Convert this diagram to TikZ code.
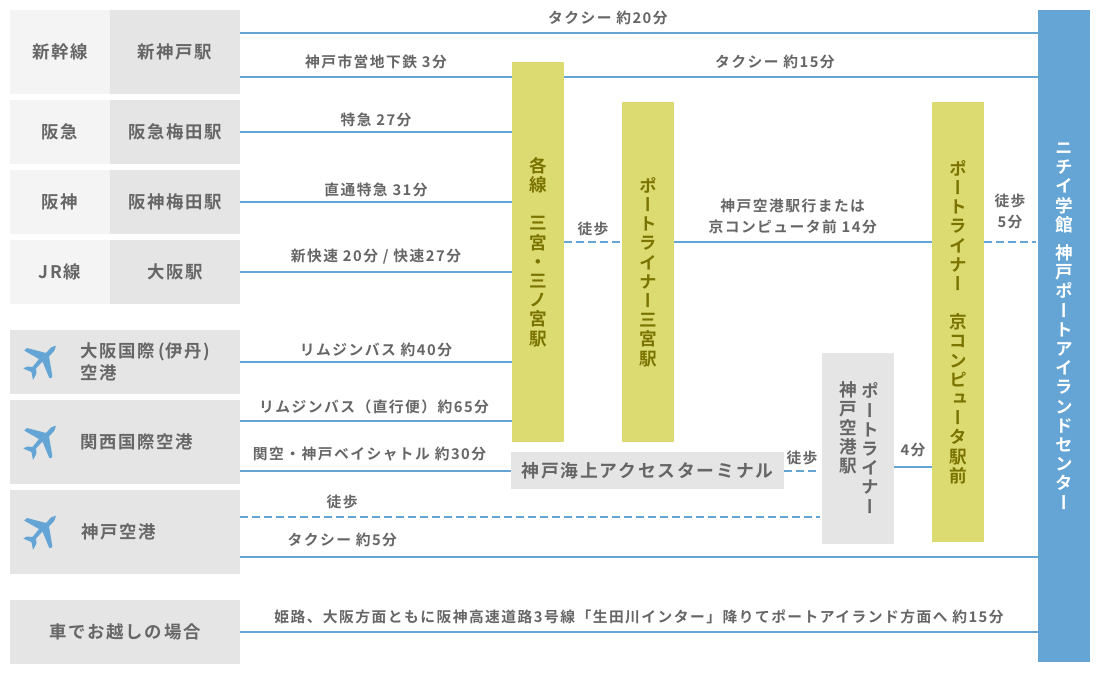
\documentclass[tikz,border=0pt]{standalone}
\usepackage{fontspec}
\setmainfont{Noto Sans CJK JP}[LetterSpace=10,BoldFont={Noto Sans CJK JP Bold}]
\newfontfamily\tatefont{Noto Sans CJK JP}[LetterSpace=0,RawFeature=+vert,BoldFont={Noto Sans CJK JP Bold}]
\definecolor{routeblue}{HTML}{64A5D6}
\definecolor{railyellow}{HTML}{DBDB72}
\definecolor{railtext}{HTML}{7A7300}
\definecolor{boxdark}{HTML}{E5E5E5}
\definecolor{boxlight}{HTML}{F4F4F4}
\definecolor{inktext}{HTML}{666666}
\tikzset{
  route/.style={draw=routeblue, line width=2pt},
  walk/.style={route, dash pattern=on 8pt off 4pt},
  tag/.style={text=inktext, font=\fontsize{14.75}{21}\selectfont\bfseries, inner sep=0pt, align=center},
  stname/.style={text=inktext, font=\fontsize{17.4}{22}\selectfont\bfseries, inner sep=0pt, align=left},
  darkbox/.style={fill=boxdark, inner sep=0pt},
  lightbox/.style={fill=boxlight, inner sep=0pt},
  railbox/.style={fill=railyellow, inner sep=0pt, minimum width=52pt},
  tate/.style={inner sep=0pt, align=center, font=\fontsize{17.6}{19.2}\selectfont\tatefont\bfseries},
  plane/.pic={
    \fill[routeblue, rounded corners=0.6pt] (16,-16.5) -- (14.5,-11.5) -- (9,-5.5) -- (12.5,15) -- (9.5,16.5) -- (2.5,-0.5) -- (-4,6.5) -- (-3.5,11.5) -- (-7,18) -- (-8.5,10) -- (-17,6.5) -- (-13,4.5) -- (-7.5,5) -- (-1,-3) -- (-16,-11.5) -- (-13,-14) -- (6,-9) -- (11,-14.5) -- cycle;
  }
}
\begin{document}
\begin{tikzpicture}[x=1pt, y=-1pt]
\useasboundingbox (0,0) rectangle (1100,674);
% left column
\node[lightbox, minimum width=100pt, minimum height=84pt, stname] (shin) at (60,52) {新幹線};
\node[darkbox, minimum width=130pt, minimum height=84pt, stname] (shinkobe) at (175,52) {新神戸駅};
\node[lightbox, minimum width=100pt, minimum height=64pt, stname] (hankyu) at (60,132) {阪急};
\node[darkbox, minimum width=130pt, minimum height=64pt, stname] (hankyust) at (175,132) {阪急梅田駅};
\node[lightbox, minimum width=100pt, minimum height=64pt, stname] (hanshin) at (60,202) {阪神};
\node[darkbox, minimum width=130pt, minimum height=64pt, stname] (hanshinst) at (175,202) {阪神梅田駅};
\node[lightbox, minimum width=100pt, minimum height=64pt, stname] (jr) at (60,272) {JR線};
\node[darkbox, minimum width=130pt, minimum height=64pt, stname] (osaka) at (175,272) {大阪駅};
\node[darkbox, minimum width=230pt, minimum height=64pt] (itami) at (125,362) {};
\node[darkbox, minimum width=230pt, minimum height=84pt] (kansai) at (125,442) {};
\node[darkbox, minimum width=230pt, minimum height=84pt] (kobeair) at (125,532) {};
\node[darkbox, minimum width=230pt, minimum height=64pt, stname] (car) at (125,632) {車でお越しの場合};
\node[stname, anchor=west] (itamilabel) at (80,362) {大阪国際\hspace{3pt}(\hspace{1pt}伊丹\hspace{1pt})\\空港};
\node[stname, anchor=west] (kansailabel) at (80,442) {関西国際空港};
\node[stname, anchor=west] (kobelabel) at (81,532) {神戸空港};
\pic at (40,362) {plane};
\pic at (40,442) {plane};
\pic at (40,532) {plane};
% stations
\node[railbox, minimum height=380pt] (sannomiya) at (538,252) {};
\node[railbox, minimum height=340pt] (plsan) at (648,272) {};
\node[railbox, minimum height=440pt] (plkyo) at (958,322) {};
\node[darkbox, minimum width=273pt, minimum height=37pt, stname, font=\fontsize{17.8}{22}\selectfont\bfseries] (terminal) at (647.5,470.5) {神戸海上アクセスターミナル};
\node[darkbox, minimum width=72pt, minimum height=191pt] (plkobe) at (858,448.5) {};
\node[fill=routeblue, inner sep=0pt, minimum width=52pt, minimum height=652pt] (nichii) at (1064,336) {};
\node[tate, text=railtext] (sannomiyalabel) at (538,252) {各\\線\\[19pt]三\\宮\\・\\三\\ノ\\宮\\駅};
\node[tate, text=railtext] (plsanlabel) at (648,272) {ポ\\ー\\ト\\ラ\\イ\\ナ\\ー\\三\\宮\\駅};
\node[tate, text=railtext] (plkyolabel) at (958,322) {ポ\\ー\\ト\\ラ\\イ\\ナ\\ー\\[19pt]京\\コ\\ン\\ピ\\ュ\\ー\\タ\\駅\\前};
\node[tate, text=inktext] (plkobelabel) at (870,448) {ポ\\ー\\ト\\ラ\\イ\\ナ\\ー};
\node[tate, text=inktext, anchor=north] (kobestlabel) at (848,381) {神\\戸\\空\\港\\駅};
\node[tate, text=white] (nichiilabel) at (1064,326) {ニ\\チ\\イ\\学\\館\\[9pt]神\\戸\\ポ\\ー\\ト\\ア\\イ\\ラ\\ン\\ド\\セ\\ン\\タ\\ー};
% routes
\draw[route] (shinkobe.east |- 0,33) -- node[tag, above=7pt, pos=.461] (taxi20) {タクシー 約20分} (nichii.west |- 0,33);
\draw[route] (shinkobe.east |- 0,77) -- node[tag, above=7pt] (subway) {神戸市営地下鉄 3分} (sannomiya.west |- 0,77);
\draw[route] (sannomiya.east |- 0,77) -- node[tag, above=7pt, pos=.445] (taxi15) {タクシー 約15分} (nichii.west |- 0,77);
\draw[route] (hankyust) -- node[tag, above=4pt] (tokkyu) {特急 27分} (sannomiya.west |- hankyust);
\draw[route] (hanshinst) -- node[tag, above=4pt] (chokutsu) {直通特急 31分} (sannomiya.west |- hanshinst);
\draw[route] (osaka) -- node[tag, above=7pt] (shinkaisoku) {新快速 20分 / 快速27分} (sannomiya.west |- osaka);
\draw[route] (itami.east) -- node[tag, above=4pt] (limo40) {リムジンバス 約40分} (sannomiya.west |- itami.east);
\draw[route] (kansai.east |- 0,421) -- node[tag, above=6pt, pos=.493] (limo65) {リムジンバス（直行便）約65分} (sannomiya.west |- 0,421);
\draw[route] (kansai.east |- 0,471) -- node[tag, above=9pt, pos=.478] (shuttle) {関空・神戸ベイシャトル 約30分} (terminal.west |- 0,471);
\draw[walk] (kobeair.east |- 0,517) -- node[tag, above=7pt, pos=.176] (walkair) {徒歩} ([xshift=-2pt]plkobe.west |- 0,517);
\draw[route] (kobeair.east |- 0,557) -- node[tag, above=9pt, pos=.128] (taxi5) {タクシー 約5分} (nichii.west |- 0,557);
\draw[route] (car.east) -- node[tag, above=7pt] (highway) {姫路、大阪方面ともに阪神高速道路3号線「生田川インター」降りてポートアイランド方面へ 約15分} (nichii.west |- car.east);
\draw[walk] (sannomiya.east |- 0,242) -- node[tag, above=5pt] (walksan) {徒歩} (plsan.west |- 0,242);
\draw[route] (plsan.east |- 0,242) -- node[tag, above=7pt, pos=.46] (pl14) {神戸空港駅行または\\京コンピュータ前 14分} (plkyo.west |- 0,242);
\draw[walk] (plkyo.east |- 0,242) -- node[tag, above=12pt] (walk5) {徒歩\\5分} ([xshift=-2pt]nichii.west |- 0,242);
\draw[walk] (terminal.east |- 0,471) -- node[tag, above=5pt] (walkterm) {徒歩} ([xshift=-2pt]plkobe.west |- 0,471);
\draw[route] (plkobe.east |- 0,467) -- node[tag, above=9pt] (pl4) {4分} (plkyo.west |- 0,467);
\end{tikzpicture}
\end{document}
